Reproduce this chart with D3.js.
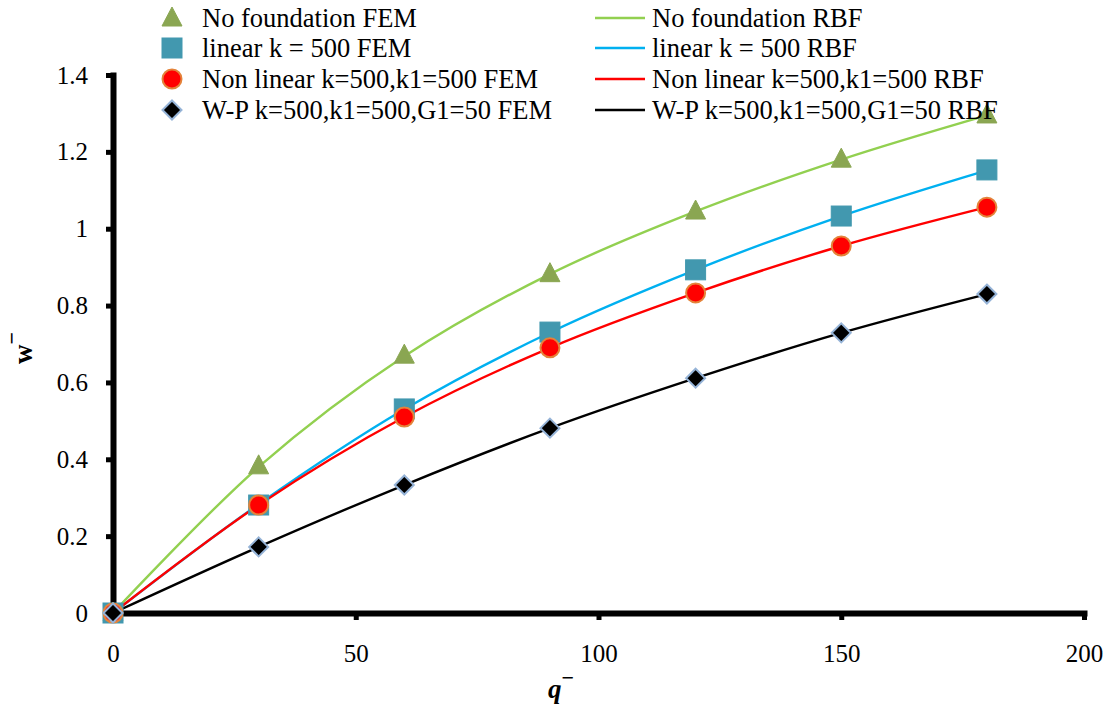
<!DOCTYPE html>
<html>
<head>
<meta charset="utf-8">
<script src="https://cdn.jsdelivr.net/npm/d3@7"></script>
<style>
  html, body { margin: 0; padding: 0; background: #fff; }
  svg { display: block; font-family: "Liberation Serif", "Times New Roman", serif; }
  text { font-family: "Liberation Serif", "Times New Roman", serif; fill: #000; }
</style>
</head>
<body>
<svg id="chart" width="1113" height="706"></svg>
<script>
// Load parameter q (x) and deflection w (y)
const qValues = [0, 30, 60, 90, 120, 150, 180];

// FEM results (markers)
const noFoundationFEM = [0, 0.383, 0.671, 0.883, 1.046, 1.181, 1.296];
const linearFEM       = [0, 0.281, 0.531, 0.731, 0.893, 1.033, 1.153];
const nonLinearFEM    = [0, 0.281, 0.510, 0.690, 0.833, 0.955, 1.056];
const wpFEM           = [0, 0.172, 0.333, 0.481, 0.611, 0.729, 0.830];

// RBF results (smooth lines)
const noFoundationRBF = [0, 0.380, 0.668, 0.882, 1.045, 1.180, 1.295];
const linearRBF       = [0, 0.283, 0.530, 0.730, 0.893, 1.033, 1.152];
const nonLinearRBF    = [0, 0.281, 0.510, 0.690, 0.833, 0.955, 1.056];
const wpRBF           = [0, 0.172, 0.333, 0.481, 0.611, 0.729, 0.830];

const femLabels = [
  "No foundation FEM",
  "linear k = 500 FEM",
  "Non linear k=500,k1=500 FEM",
  "W-P k=500,k1=500,G1=50 FEM"
];
const rbfLabels = [
  "No foundation RBF",
  "linear k = 500 RBF",
  "Non linear k=500,k1=500 RBF",
  "W-P k=500,k1=500,G1=50 RBF"
];

const xTicks = [0, 50, 100, 150, 200];
const xTickLabels = ["0", "50", "100", "150", "200"];
const yTicks = [0, 0.2, 0.4, 0.6, 0.8, 1.0, 1.2, 1.4];
const yTickLabels = ["0", "0.2", "0.4", "0.6", "0.8", "1", "1.2", "1.4"];

const svg = d3.select("#chart");

const x = d3.scaleLinear().domain([0, 200]).range([113, 1084]);
const y = d3.scaleLinear().domain([0, 1.4]).range([613, 75]);

const series = [
  { fem: noFoundationFEM, rbf: noFoundationRBF, line: "#92D050", marker: "triangle", fill: "#8AA652", stroke: "#8AA652" },
  { fem: linearFEM,       rbf: linearRBF,       line: "#00B0F0", marker: "square",   fill: "#4298AF", stroke: "#4298AF" },
  { fem: nonLinearFEM,    rbf: nonLinearRBF,    line: "#FF0000", marker: "circle",   fill: "#FF0000", stroke: "#E4833A" },
  { fem: wpFEM,           rbf: wpRBF,           line: "#000000", marker: "diamond",  fill: "#000000", stroke: "#95B3D7" }
];

// Axes
const yAxis = d3.axisLeft(y)
  .tickValues(yTicks)
  .tickFormat((d, i) => yTickLabels[i])
  .tickSize(7)
  .tickSizeOuter(0)
  .tickPadding(18);
const xAxis = d3.axisBottom(x)
  .tickValues(xTicks)
  .tickFormat((d, i) => xTickLabels[i])
  .tickSize(7)
  .tickSizeOuter(0)
  .tickPadding(24);

const gx = svg.append("g").attr("transform", `translate(0,${y(0)})`).call(xAxis);
const gy = svg.append("g").attr("transform", `translate(${x(0)},0)`).call(yAxis);

[gx, gy].forEach(g => {
  g.attr("font-family", "Liberation Serif, Times New Roman, serif");
  g.select(".domain").attr("stroke", "#000").attr("stroke-width", 6).attr("stroke-linecap", "square");
  g.selectAll(".tick line").attr("stroke", "#000").attr("stroke-width", 5);
  g.selectAll(".tick text")
    .attr("font-size", 25)
    .attr("fill", "#000");
});

// Axis titles
svg.append("text")
  .attr("x", 548).attr("y", 698)
  .attr("font-size", 27).attr("font-weight", "bold").attr("font-style", "italic")
  .text("q")
  .append("tspan").attr("dy", -13).attr("font-size", 22).attr("font-style", "normal").text("\u2212");

svg.append("text")
  .attr("transform", "translate(32,364) rotate(-90)")
  .attr("font-size", 27).attr("font-weight", "bold")
  .text("w")
  .append("tspan").attr("dy", -13).attr("font-size", 22).text("\u2212");

// RBF curves
const line = d3.line()
  .x((d, i) => x(qValues[i]))
  .y(d => y(d))
  .curve(d3.curveCatmullRom.alpha(0.5));

svg.append("g").selectAll("path")
  .data(series)
  .join("path")
  .attr("d", s => line(s.rbf))
  .attr("fill", "none")
  .attr("stroke", s => s.line)
  .attr("stroke-width", 2.4);

// Marker drawing
function drawMarker(g, type, fill, stroke) {
  if (type === "triangle") {
    g.append("path").attr("d", "M0,-11L10,8L-10,8Z").attr("fill", fill).attr("stroke", stroke).attr("stroke-width", 1);
  } else if (type === "square") {
    g.append("rect").attr("x", -10).attr("y", -10).attr("width", 20).attr("height", 20)
      .attr("fill", fill).attr("stroke", stroke).attr("stroke-width", 1);
  } else if (type === "circle") {
    g.append("circle").attr("r", 9.5).attr("fill", fill).attr("stroke", stroke).attr("stroke-width", 2);
  } else {
    g.append("path").attr("d", "M0,-9.5L9.5,0L0,9.5L-9.5,0Z").attr("fill", fill).attr("stroke", stroke).attr("stroke-width", 2);
  }
}

// FEM markers
series.forEach(s => {
  const gm = svg.append("g");
  s.fem.forEach((v, i) => {
    const g = gm.append("g").attr("transform", `translate(${x(qValues[i])},${y(v)})`);
    drawMarker(g, s.marker, s.fill, s.stroke);
  });
});

// Legend
const legendRowY = [18, 48, 79, 110];
const legend = svg.append("g");
series.forEach((s, i) => {
  const g = legend.append("g").attr("transform", `translate(172,${legendRowY[i]})`);
  drawMarker(g, s.marker, s.fill, s.stroke);
  legend.append("text")
    .attr("x", 202).attr("y", legendRowY[i]).attr("dy", "0.35em")
    .attr("font-size", 26.5).text(femLabels[i]);

  legend.append("line")
    .attr("x1", 595).attr("x2", 645)
    .attr("y1", legendRowY[i]).attr("y2", legendRowY[i])
    .attr("stroke", s.line).attr("stroke-width", 2.4);
  legend.append("text")
    .attr("x", 652).attr("y", legendRowY[i]).attr("dy", "0.35em")
    .attr("font-size", 26.5).text(rbfLabels[i]);
});
</script>
</body>
</html>
